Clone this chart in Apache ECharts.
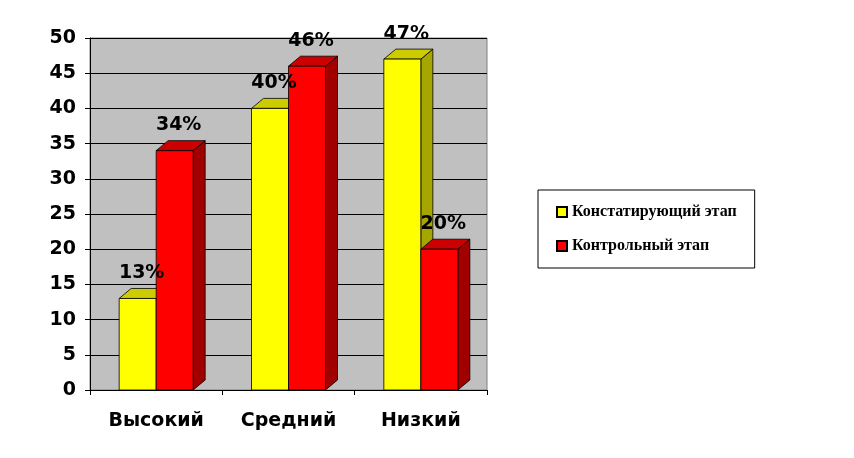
<!DOCTYPE html>
<html><head><meta charset="utf-8">
<script src="https://cdn.jsdelivr.net/npm/echarts@6/dist/echarts.min.js"></script>
</head><body style="margin:0;background:#fff">
<div id="c" style="width:854px;height:458px"></div>
<script>
var categories = ['Высокий', 'Средний', 'Низкий'];
var stage1 = [13, 40, 47];
var stage2 = [34, 46, 20];
var names = ['Констатирующий этап', 'Контрольный этап'];
var yTicks = [0, 5, 10, 15, 20, 25, 30, 35, 40, 45, 50];

var colors = [
  {front: '#ffff00', top: '#cccc00', side: '#a6a600'},
  {front: '#ff0000', top: '#cc0000', side: '#a00000'}
];
var DX = 12, DY = 10, BW = 37;

function makeRender(si) {
  return function (params, api) {
    var c = api.coord([api.value(0), api.value(1)]);
    var base = api.coord([api.value(0), 0]);
    var x0 = si === 0 ? c[0] - BW : c[0];
    var x1 = x0 + BW, yT = c[1], yB = base[1];
    var col = colors[si];
    var st = {stroke: '#000', lineWidth: 0.8};
    return {type: 'group', children: [
      {type: 'polygon', shape: {points: [[x1, yT], [x1 + DX, yT - DY], [x1 + DX, yB - DY], [x1, yB]]}, style: Object.assign({fill: col.side}, st)},
      {type: 'polygon', shape: {points: [[x0, yT], [x0 + DX, yT - DY], [x1 + DX, yT - DY], [x1, yT]]}, style: Object.assign({fill: col.top}, st)},
      {type: 'rect', shape: {x: x0, y: yT, width: BW, height: yB - yT}, style: Object.assign({fill: col.front}, st)}
    ]};
  };
}
function makeLabels(si) {
  return function (params, api) {
    var c = api.coord([api.value(0), api.value(1)]);
    var x0 = si === 0 ? c[0] - BW : c[0];
    return {type: 'text', style: {text: api.value(1) + '%', x: x0 + BW / 2 + 4, y: c[1] - DY - 6, textAlign: 'center', textVerticalAlign: 'bottom', font: 'bold 19px "DejaVu Sans"', fill: '#000'}};
  };
}

var chart = echarts.init(document.getElementById('c'));
chart.setOption({
  animation: false,
  grid: {left: 90, right: 367, top: 38, bottom: 68, show: true, backgroundColor: '#c0c0c0', borderColor: '#808080'},
  xAxis: {type: 'category', data: categories, axisTick: {show: true, lineStyle: {color: '#000'}},
    axisLine: {lineStyle: {color: '#000'}},
    axisLabel: {margin: 22, fontSize: 19, fontWeight: 'bold', color: '#000', fontFamily: 'DejaVu Sans'}},
  yAxis: {type: 'value', min: 0, max: 50, interval: 5,
    axisLine: {show: true, lineStyle: {color: '#000'}}, axisTick: {show: true, lineStyle: {color: '#000'}},
    splitLine: {lineStyle: {color: '#000', width: 1}},
    axisLabel: {fontSize: 19, fontWeight: 'bold', color: '#000', fontFamily: 'DejaVu Sans', margin: 14,
      formatter: function (v) { return yTicks.indexOf(v) >= 0 ? String(v) : ''; }}},
  legend: {orient: 'vertical', left: 538, top: 190, padding: [14, 18, 14, 18], itemGap: 18,
    borderColor: '#000', borderWidth: 1, itemWidth: 10, itemHeight: 10, icon: 'rect',
    textStyle: {fontFamily: 'Liberation Serif', fontWeight: 'bold', fontSize: 16, color: '#000'},
    data: names},
  series: [
    {type: 'custom', name: names[0], renderItem: makeRender(0), itemStyle: {color: '#ffff00', borderColor: '#000', borderWidth: 1},
      data: stage1.map(function (v, i) { return [i, v]; })},
    {type: 'custom', name: names[1], renderItem: makeRender(1), itemStyle: {color: '#ff0000', borderColor: '#000', borderWidth: 1},
      data: stage2.map(function (v, i) { return [i, v]; })},
    {type: 'custom', z: 10, renderItem: makeLabels(0), data: stage1.map(function (v, i) { return [i, v]; })},
    {type: 'custom', z: 10, renderItem: makeLabels(1), data: stage2.map(function (v, i) { return [i, v]; })}
  ]
});
</script></body></html>
